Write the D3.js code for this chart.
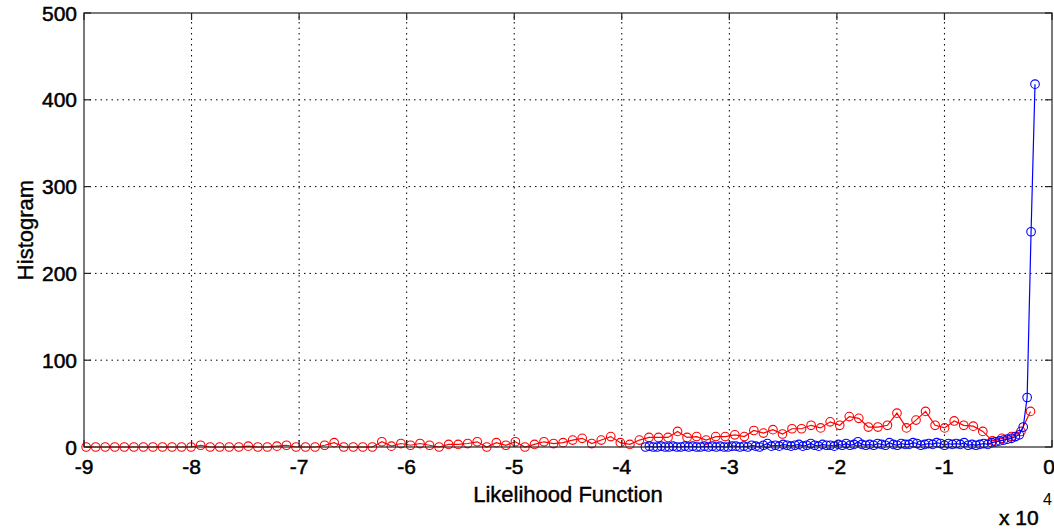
<!DOCTYPE html>
<meta charset="utf-8">
<style>
body { margin: 0; background: #fff; }
svg { display: block; font-family: "Liberation Sans", Arial, sans-serif; }
.grid line { stroke: #000; stroke-width: 1; stroke-dasharray: 1.5,4; }
.frame { fill: none; stroke: #222; stroke-width: 1.2; }
.tick-mark { stroke: #222; stroke-width: 1.2; }
.ticklabel { font-size: 21px; fill: #000; stroke: #000; stroke-width: 0.5px; }
.axislabel { font-size: 22px; fill: #000; stroke: #000; stroke-width: 0.4px; }
</style>
<body>
<svg width="1054" height="529"></svg>
<script src="https://cdn.jsdelivr.net/npm/d3@7/dist/d3.min.js"></script>
<script>
// x in units of 10^4
var xTicks = [-9, -8, -7, -6, -5, -4, -3, -2, -1, 0];
var yTicks = [0, 100, 200, 300, 400, 500];

// red histogram, 100 bins spread over redRange
var redRange = [-8.98, -0.20];
var redCounts = [
  0, 0, 0, 0, 0, 0, 0, 0, 0, 0,
  0, 0, 2, 0, 0, 0, 0, 1, 0, 0,
  1, 2, 0, 0, 0, 2, 5, 0, 0, 0,
  0, 6, 1, 4, 2, 4, 2, 0, 3, 3,
  4, 6, 0, 5, 2, 6, 0, 3, 6, 4,
  5, 8, 10, 4, 8, 12, 5, 3, 8, 11,
  11, 11, 18, 11, 12, 8, 12, 12, 14, 12,
  19, 16, 20, 15, 21, 21, 25, 22, 29, 25,
  35, 33, 23, 23, 25, 39, 22, 31, 41, 25,
  22, 30, 25, 24, 18, 7, 10, 12, 18, 41
];

// blue histogram, 100 bins spread over blueRange
var blueRange = [-3.78, -0.158];
var blueCounts = [
  0, 1, 0, 0, 1, 0, 0, 1, 0, 0,
  1, 0, 1, 0, 0, 1, 0, 1, 0, 1,
  0, 0, 1, 1, 0, 1, 0, 2, 1, 0,
  2, 4, 1, 2, 1, 3, 2, 1, 2, 3,
  1, 2, 4, 2, 1, 3, 2, 2, 1, 3,
  2, 4, 2, 3, 6, 3, 2, 3, 2, 4,
  3, 2, 5, 3, 2, 4, 3, 3, 5, 4,
  2, 3, 4, 3, 5, 4, 2, 4, 3, 4,
  3, 5, 2, 3, 2, 3, 4, 3, 5, 6,
  7, 8, 9, 10, 12, 14, 23, 57, 248, 418
];

function bins(range, counts) {
  var step = (range[1] - range[0]) / (counts.length - 1);
  return counts.map(function(c, i) { return {x: range[0] + i * step, y: c}; });
}

var svg = d3.select("svg"),
    pl = 84, pr = 1052, pt = 13, pb = 447;

svg.append("rect").attr("width", 1054).attr("height", 529).attr("fill", "#fff");

var x = d3.scaleLinear().domain([-9, 0]).range([pl, pr]),
    y = d3.scaleLinear().domain([0, 500]).range([pb, pt]);

// grid
var grid = svg.append("g").attr("class", "grid");
grid.selectAll(".gx").data(xTicks.slice(1, -1)).enter().append("line")
    .attr("x1", function(d) { return x(d); }).attr("x2", function(d) { return x(d); })
    .attr("y1", pb).attr("y2", pt);
grid.selectAll(".gy").data(yTicks.slice(1, -1)).enter().append("line")
    .attr("x1", pl).attr("x2", pr)
    .attr("y1", function(d) { return y(d); }).attr("y2", function(d) { return y(d); });

var line = d3.line()
    .x(function(d) { return x(d.x); })
    .y(function(d) { return y(d.y); });

function drawSeries(data, color) {
  var g = svg.append("g");
  g.append("path").datum(data)
      .attr("d", line)
      .attr("fill", "none")
      .attr("stroke", color)
      .attr("stroke-width", 1.2);
  g.selectAll("circle").data(data).enter().append("circle")
      .attr("cx", function(d) { return x(d.x); })
      .attr("cy", function(d) { return y(d.y); })
      .attr("r", 4.3)
      .attr("fill", "none")
      .attr("stroke", color)
      .attr("stroke-width", 1.1);
}

drawSeries(bins(redRange, redCounts), "#ff0000");
drawSeries(bins(blueRange, blueCounts), "#0000ff");

// frame and inward ticks
svg.append("rect").attr("class", "frame")
    .attr("x", pl).attr("y", pt)
    .attr("width", pr - pl).attr("height", pb - pt);

var tk = svg.append("g");
xTicks.forEach(function(d) {
  tk.append("line").attr("class", "tick-mark")
      .attr("x1", x(d)).attr("x2", x(d)).attr("y1", pb).attr("y2", pb - 7);
  tk.append("line").attr("class", "tick-mark")
      .attr("x1", x(d)).attr("x2", x(d)).attr("y1", pt).attr("y2", pt + 7);
});
yTicks.forEach(function(d) {
  tk.append("line").attr("class", "tick-mark")
      .attr("x1", pl).attr("x2", pl + 7).attr("y1", y(d)).attr("y2", y(d));
  tk.append("line").attr("class", "tick-mark")
      .attr("x1", pr).attr("x2", pr - 7).attr("y1", y(d)).attr("y2", y(d));
});

// tick labels
svg.selectAll(".xl").data(xTicks).enter().append("text")
    .attr("class", "ticklabel")
    .attr("x", function(d) { return d === 0 ? x(d) - 3 : x(d); })
    .attr("y", pb + 27)
    .attr("text-anchor", "middle")
    .text(function(d) { return d < 0 ? "-" + Math.abs(d) : d; });

svg.selectAll(".yl").data(yTicks).enter().append("text")
    .attr("class", "ticklabel")
    .attr("x", pl - 7)
    .attr("y", function(d) { return y(d); })
    .attr("dy", "0.36em")
    .attr("text-anchor", "end")
    .text(function(d) { return d; });

// axis labels
svg.append("text").attr("class", "axislabel")
    .attr("x", (pl + pr) / 2).attr("y", 502)
    .attr("text-anchor", "middle")
    .text("Likelihood Function");

svg.append("text").attr("class", "axislabel")
    .attr("transform", "translate(33," + (pt + pb) / 2 + ") rotate(-90)")
    .attr("text-anchor", "middle")
    .text("Histogram");

svg.append("text").attr("class", "ticklabel")
    .attr("x", 999).attr("y", 525)
    .text("x 10");
svg.append("text")
    .attr("x", 1043).attr("y", 505)
    .style("font-size", "16px")
    .text("4");
</script>
</body>
